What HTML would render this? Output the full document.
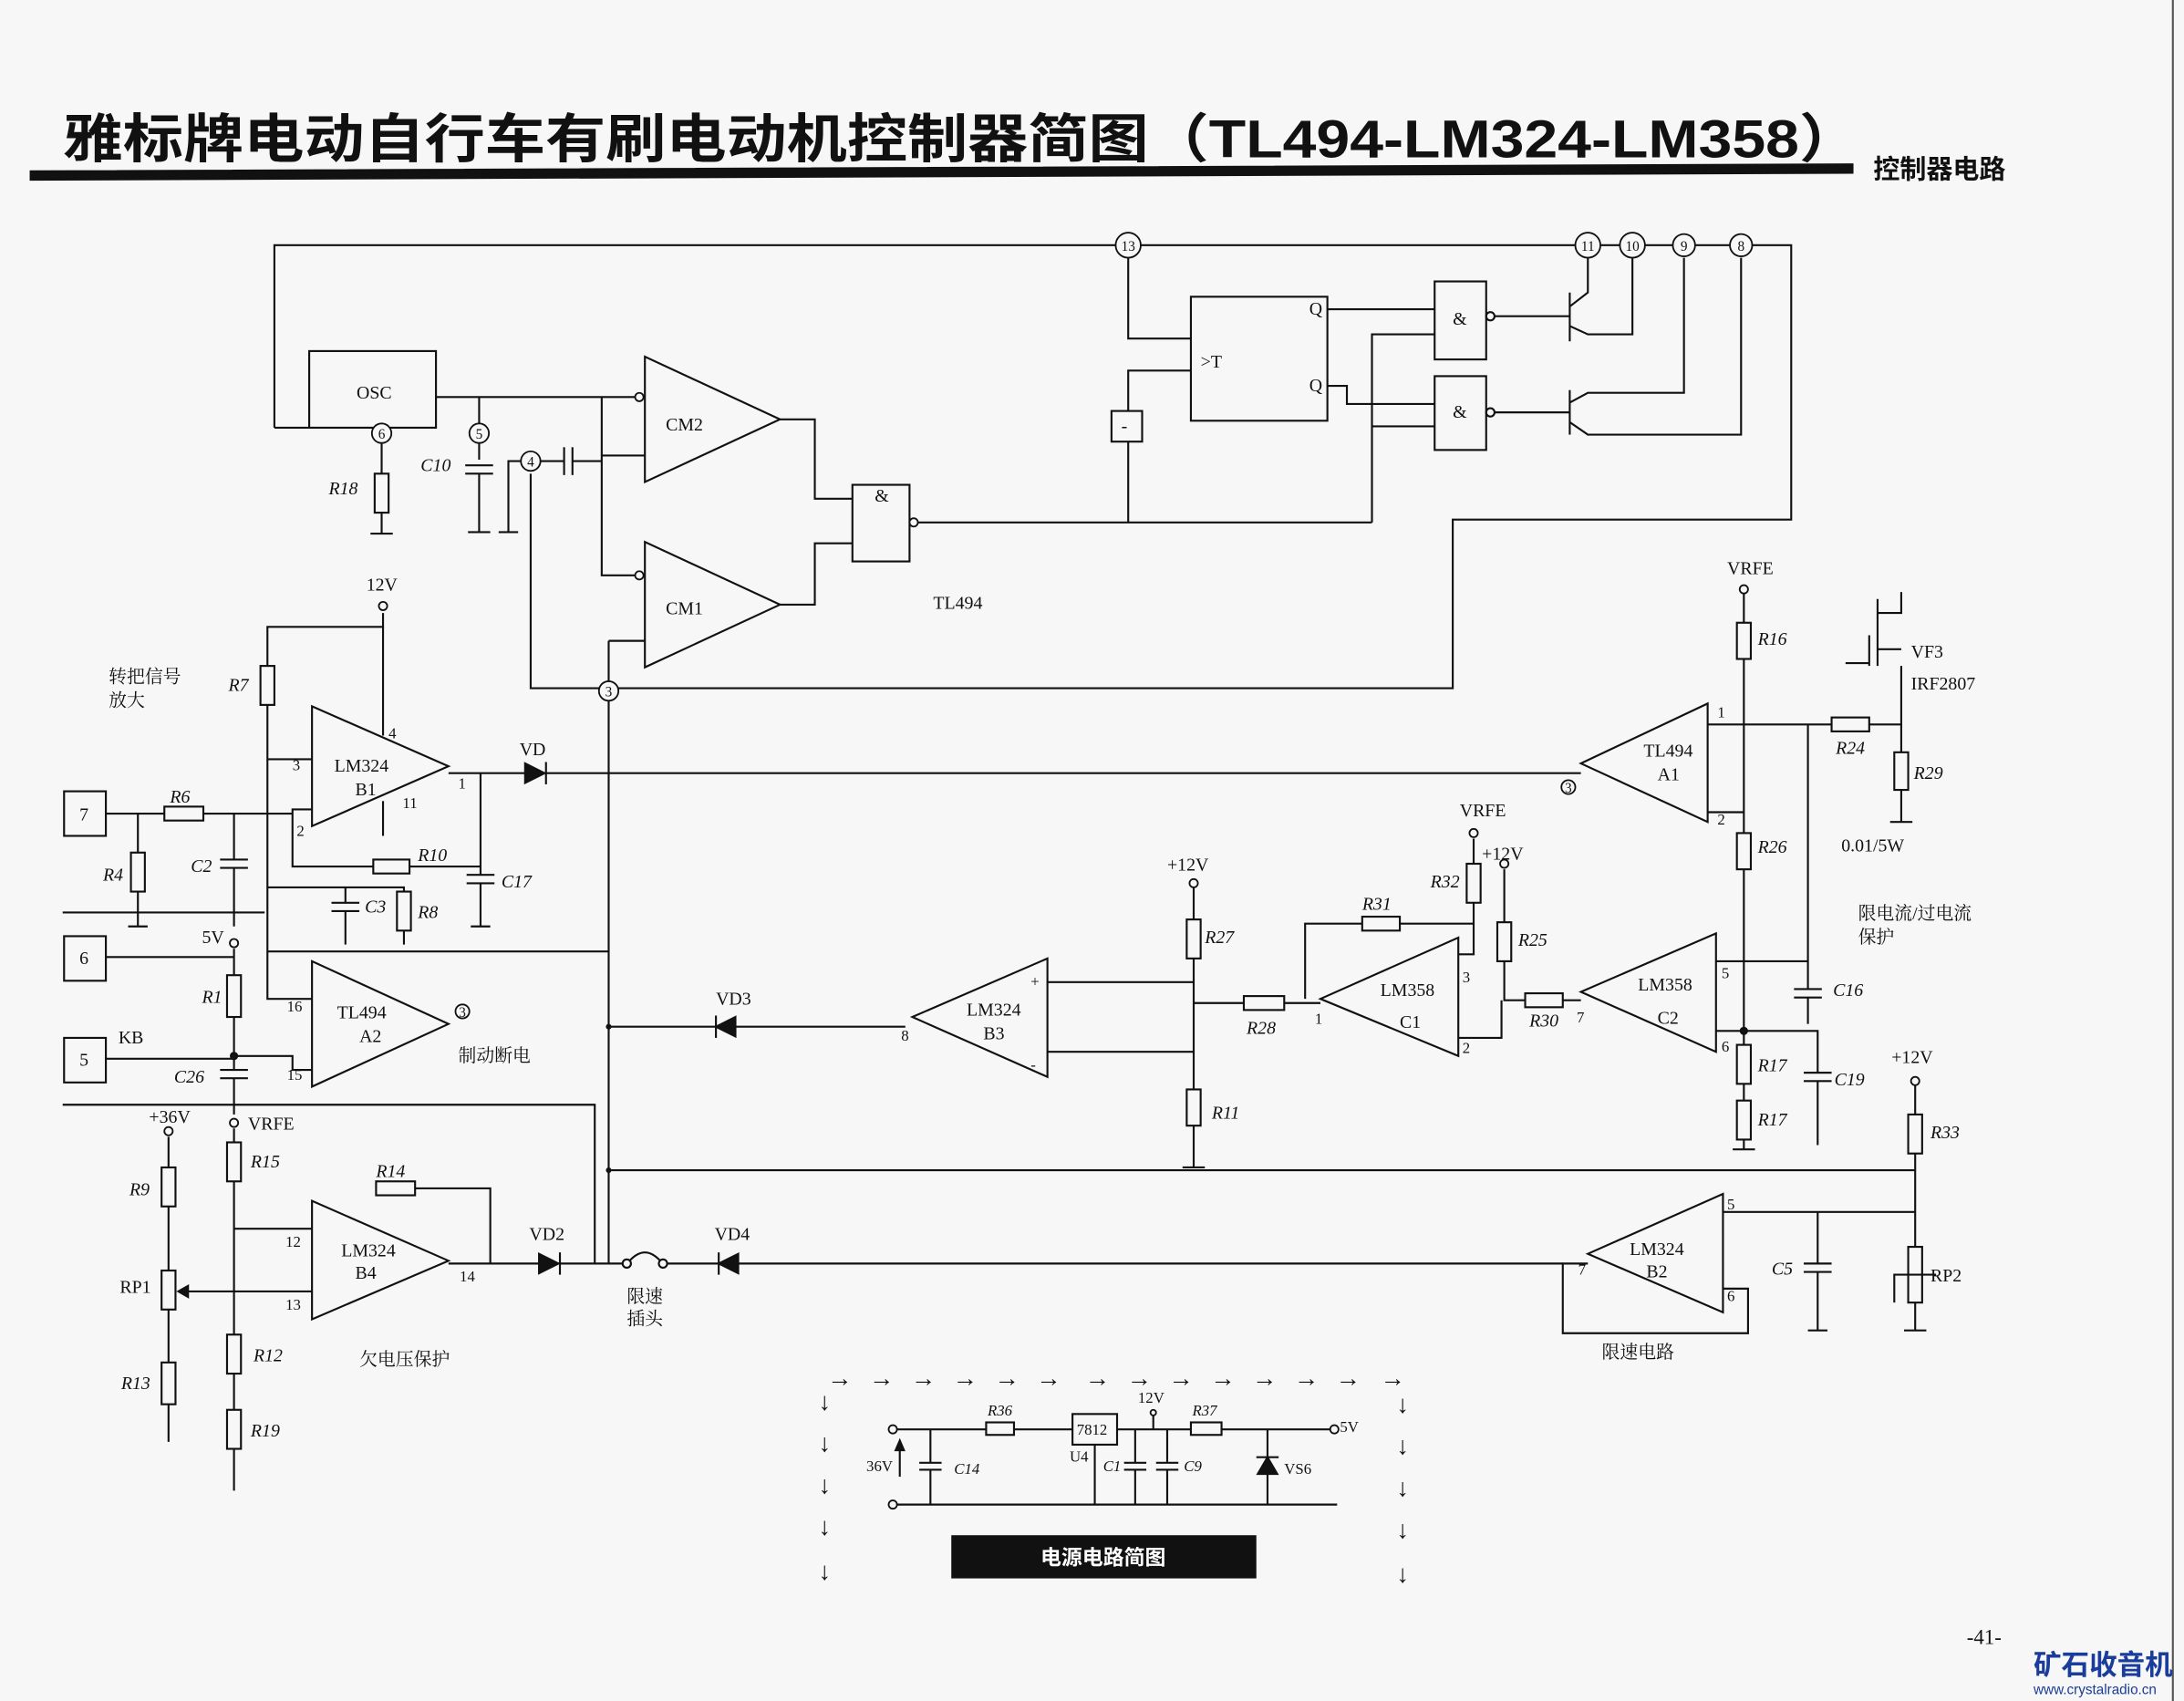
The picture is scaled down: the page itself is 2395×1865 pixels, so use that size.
<!DOCTYPE html>
<html><head><meta charset="utf-8"><style>
html,body{margin:0;padding:0;background:#f7f7f7;}
svg{display:block}
text{font-family:"Liberation Serif","Noto Serif CJK SC",serif;fill:#111}
.s{font-family:"Liberation Sans","Noto Sans CJK SC",sans-serif}
</style></head><body>
<svg width="2395" height="1865" viewBox="0 0 1568 1221" xmlns="http://www.w3.org/2000/svg">
<rect width="1568" height="1221" fill="#f7f7f7"/>
<g stroke="#111" stroke-width="1.4" fill="none">
<line x1="1560" y1="0" x2="1560" y2="1221" stroke="#555"/>
<polygon points="22,123 1330,118 1330,124 22,129" fill="#111"/>
<polyline points="197,307 197,176 1286,176 1286,373 1043,373 1043,494 437,494"/>
<polyline points="197,307 222,307"/>
<rect x="222" y="252" width="91" height="55"/>
<line x1="274" y1="307" x2="274" y2="383"/><rect x="269" y="340" width="10" height="28" fill="#f7f7f7"/><line x1="266" y1="383" x2="282" y2="383"/>
<polyline points="313,285 459,285"/>
<line x1="344" y1="285" x2="344" y2="330"/><line x1="334" y1="334" x2="354" y2="334"/><line x1="334" y1="340" x2="354" y2="340"/><line x1="344" y1="340" x2="344" y2="382"/><line x1="336" y1="382" x2="352" y2="382"/>
<polyline points="365,382 365,331 405,331"/><line x1="358" y1="382" x2="372" y2="382"/>
<line x1="405" y1="321" x2="405" y2="341"/><line x1="411" y1="321" x2="411" y2="341"/>
<polyline points="411,331 432,331"/>
<polyline points="432,285 432,413 463,413"/><line x1="432" y1="327" x2="463" y2="327"/>
<polyline points="381,340 381,494 437,494"/>
<polyline points="437,460 463,460"/><line x1="437" y1="460" x2="437" y2="907"/>
<polygon points="463,256 463,346 560,301"/><polygon points="463,389 463,479 560,434"/>
<polyline points="560,301 585,301 585,358 612,358"/><polyline points="560,434 585,434 585,390 612,390"/>
<rect x="612" y="348" width="41" height="55"/>
<line x1="659" y1="375" x2="985" y2="375"/>
<polyline points="810,375 810,317"/><rect x="798" y="295" width="22" height="22"/>
<polyline points="810,295 810,266 855,266"/>
<polyline points="810,185 810,243 855,243"/>
<rect x="855" y="213" width="98" height="89"/>
<polyline points="953,222 1030,222"/><polyline points="953,277 967,277 967,290 1030,290"/>
<polyline points="985,375 985,240 1030,240"/><line x1="985" y1="306" x2="1030" y2="306"/>
<rect x="1030" y="202" width="37" height="56"/><rect x="1030" y="270" width="37" height="53"/>
<circle cx="1070" cy="227" r="3"/><circle cx="1070" cy="296" r="3"/>
<line x1="1073" y1="227" x2="1127" y2="227"/><line x1="1127" y1="210" x2="1127" y2="245"/>
<polyline points="1127,220 1140,210 1140,185"/><polyline points="1127,234 1140,240 1172,240 1172,185"/>
<line x1="1073" y1="296" x2="1127" y2="296"/><line x1="1127" y1="280" x2="1127" y2="312"/>
<polyline points="1127,289 1140,282 1209,282 1209,185"/><polyline points="1127,303 1140,312 1250,312 1250,185"/>
<polyline points="275,440 275,450 192,450 192,478"/><rect x="187" y="478" width="10" height="28"/>
<polyline points="192,506 192,717 224,717"/><line x1="192" y1="545" x2="224" y2="545"/>
<line x1="275" y1="450" x2="275" y2="528"/><line x1="275" y1="575" x2="275" y2="600"/>
<polygon points="224,507 224,593 322,550"/>
<line x1="322" y1="555" x2="1135" y2="555"/>
<polygon points="377,548 377,562 391,555" fill="#111"/><line x1="392" y1="547" x2="392" y2="563"/>
<polyline points="345,555 345,628"/><line x1="335" y1="628" x2="355" y2="628"/><line x1="335" y1="634" x2="355" y2="634"/><line x1="345" y1="634" x2="345" y2="665"/><line x1="338" y1="665" x2="352" y2="665"/>
<polyline points="224,581 210,581 210,622 345,622"/><rect x="268" y="617" width="26" height="10" fill="#f7f7f7"/>
<rect x="46" y="568" width="30" height="32"/>
<polyline points="76,584 210,584"/><rect x="118" y="579" width="28" height="10" fill="#f7f7f7"/>
<line x1="99" y1="584" x2="99" y2="665"/><rect x="94" y="612" width="10" height="28" fill="#f7f7f7"/><line x1="92" y1="665" x2="106" y2="665"/>
<line x1="168" y1="584" x2="168" y2="617"/><line x1="158" y1="617" x2="178" y2="617"/><line x1="158" y1="623" x2="178" y2="623"/><line x1="168" y1="623" x2="168" y2="665"/>
<polyline points="192,637 290,637 290,678"/><rect x="285" y="640" width="10" height="28" fill="#f7f7f7"/>
<line x1="248" y1="637" x2="248" y2="648"/><line x1="238" y1="648" x2="258" y2="648"/><line x1="238" y1="654" x2="258" y2="654"/><line x1="248" y1="654" x2="248" y2="678"/>
<line x1="45" y1="655" x2="190" y2="655"/><line x1="192" y1="683" x2="437" y2="683"/>
<rect x="46" y="672" width="30" height="32"/><rect x="46" y="745" width="30" height="32"/>
<line x1="76" y1="687" x2="168" y2="687"/><line x1="168" y1="681" x2="168" y2="700"/><rect x="163" y="700" width="10" height="30"/>
<line x1="168" y1="730" x2="168" y2="768"/><line x1="76" y1="760" x2="168" y2="760"/>
<line x1="158" y1="768" x2="178" y2="768"/><line x1="158" y1="774" x2="178" y2="774"/><line x1="168" y1="774" x2="168" y2="800"/>
<polyline points="168,758 210,758 210,768 224,768"/>
<polygon points="224,690 224,780 322,735"/>
<line x1="437" y1="737" x2="650" y2="737"/>
<polygon points="528,730 528,744 514,737" fill="#111"/><line x1="514" y1="729" x2="514" y2="745"/>
<polygon points="752,688 752,773 655,730"/>
<polyline points="752,705 857,705"/><polyline points="752,755 857,755"/>
<line x1="857" y1="637" x2="857" y2="838"/><rect x="852" y="660" width="10" height="28" fill="#f7f7f7"/><rect x="852" y="782" width="10" height="26" fill="#f7f7f7"/>
<line x1="849" y1="838" x2="865" y2="838"/>
<polyline points="857,720 948,720"/><rect x="893" y="715" width="29" height="10" fill="#f7f7f7"/>
<polygon points="1047,673 1047,758 948,717"/>
<polyline points="937,717 937,663 1058,663"/><rect x="978" y="658" width="27" height="10" fill="#f7f7f7"/>
<polyline points="1058,602 1058,685 1047,685"/><rect x="1053" y="620" width="10" height="28" fill="#f7f7f7"/>
<polyline points="1080,624 1080,718 1135,718"/><rect x="1075" y="662" width="10" height="28" fill="#f7f7f7"/><rect x="1095" y="713" width="27" height="10" fill="#f7f7f7"/>
<polyline points="1047,745 1078,745 1078,718"/>
<polygon points="1232,670 1232,755 1135,712"/>
<polyline points="1232,690 1298,690"/><polyline points="1232,740 1305,740 1305,770"/>
<polygon points="1226,505 1226,590 1135,548"/>
<polyline points="1252,426 1252,825"/><rect x="1247" y="447" width="10" height="26" fill="#f7f7f7"/><rect x="1247" y="598" width="10" height="26" fill="#f7f7f7"/><rect x="1247" y="750" width="10" height="28" fill="#f7f7f7"/><rect x="1247" y="790" width="10" height="28" fill="#f7f7f7"/>
<line x1="1226" y1="583" x2="1252" y2="583"/><line x1="1244" y1="825" x2="1260" y2="825"/>
<polyline points="1226,520 1365,520 1365,590"/><rect x="1315" y="515" width="27" height="10" fill="#f7f7f7"/><rect x="1360" y="540" width="10" height="27" fill="#f7f7f7"/>
<line x1="1357" y1="590" x2="1373" y2="590"/>
<line x1="1298" y1="520" x2="1298" y2="710"/><line x1="1288" y1="710" x2="1308" y2="710"/><line x1="1288" y1="716" x2="1308" y2="716"/><line x1="1298" y1="716" x2="1298" y2="735"/>
<line x1="1295" y1="770" x2="1315" y2="770"/><line x1="1295" y1="776" x2="1315" y2="776"/><line x1="1305" y1="776" x2="1305" y2="822"/>
<line x1="1365" y1="520" x2="1365" y2="478"/><line x1="1348" y1="430" x2="1348" y2="478"/><line x1="1342" y1="456" x2="1342" y2="478"/><line x1="1325" y1="476" x2="1342" y2="476"/>
<polyline points="1348,440 1365,440 1365,425"/><polyline points="1348,466 1365,466"/>
<polyline points="437,840 1375,840"/>
<polyline points="1375,779 1375,955"/><rect x="1370" y="800" width="10" height="28" fill="#f7f7f7"/><rect x="1370" y="895" width="10" height="40" fill="#f7f7f7"/>
<polyline points="1390,915 1360,915 1360,935"/><line x1="1367" y1="955" x2="1383" y2="955"/>
<polygon points="1237,857 1237,942 1140,900"/>
<polyline points="1237,870 1375,870"/>
<polyline points="1237,925 1255,925 1255,957 1122,957 1122,907 1140,907"/>
<line x1="1305" y1="870" x2="1305" y2="907"/><line x1="1295" y1="907" x2="1315" y2="907"/><line x1="1295" y1="913" x2="1315" y2="913"/><line x1="1305" y1="913" x2="1305" y2="955"/><line x1="1298" y1="955" x2="1312" y2="955"/>
<line x1="322" y1="907" x2="447" y2="907"/><line x1="479" y1="907" x2="1122" y2="907"/>
<circle cx="450" cy="907" r="3"/><circle cx="476" cy="907" r="3"/><path d="M452,905 Q463,893 474,905"/>
<polygon points="387,900 387,914 401,907" fill="#111"/><line x1="402" y1="899" x2="402" y2="915"/>
<polygon points="530,900 530,914 516,907" fill="#111"/><line x1="516" y1="899" x2="516" y2="915"/>
<polygon points="224,862 224,947 322,905"/>
<polyline points="168,882 224,882"/><polyline points="272,853 352,853 352,907"/><rect x="270" y="848" width="28" height="10" fill="#f7f7f7"/>
<polyline points="128,927 224,927"/><polygon points="128,927 135,923 135,931" fill="#111"/>
<line x1="121" y1="816" x2="121" y2="1035"/><rect x="116" y="838" width="10" height="28" fill="#f7f7f7"/><rect x="116" y="912" width="10" height="28" fill="#f7f7f7"/><rect x="116" y="978" width="10" height="30" fill="#f7f7f7"/>
<line x1="168" y1="810" x2="168" y2="1070"/><rect x="163" y="820" width="10" height="28" fill="#f7f7f7"/><rect x="163" y="958" width="10" height="28" fill="#f7f7f7"/><rect x="163" y="1012" width="10" height="28" fill="#f7f7f7"/>
<polyline points="45,793 427,793 427,907"/>
<polyline points="644,1026 770,1026"/><rect x="708" y="1021" width="20" height="9" fill="#f7f7f7"/>
<rect x="770" y="1015" width="32" height="22"/>
<polyline points="802,1026 955,1026"/><rect x="855" y="1021" width="22" height="9" fill="#f7f7f7"/>
<line x1="644" y1="1080" x2="960" y2="1080"/>
<polyline points="786,1037 786,1080"/>
<line x1="668" y1="1026" x2="668" y2="1050"/><line x1="660" y1="1050" x2="676" y2="1050"/><line x1="660" y1="1055" x2="676" y2="1055"/><line x1="668" y1="1055" x2="668" y2="1080"/>
<line x1="815" y1="1026" x2="815" y2="1050"/><line x1="807" y1="1050" x2="823" y2="1050"/><line x1="807" y1="1055" x2="823" y2="1055"/><line x1="815" y1="1055" x2="815" y2="1080"/>
<line x1="838" y1="1026" x2="838" y2="1050"/><line x1="830" y1="1050" x2="846" y2="1050"/><line x1="830" y1="1055" x2="846" y2="1055"/><line x1="838" y1="1055" x2="838" y2="1080"/>
<line x1="828" y1="1016" x2="828" y2="1026"/>
<line x1="910" y1="1026" x2="910" y2="1080"/><polygon points="903,1058 917,1058 910,1046" fill="#111"/><polyline points="902,1046 918,1046"/>
<line x1="646" y1="1060" x2="646" y2="1036"/><polygon points="646,1034 643,1041 649,1041" fill="#111"/>
</g>
<g fill="#f7f7f7" stroke="#111" stroke-width="1.2">
<circle cx="810" cy="176" r="9"/><circle cx="1140" cy="176" r="9"/><circle cx="1172" cy="176" r="9"/><circle cx="1209" cy="176" r="8"/><circle cx="1250" cy="176" r="8"/>
<circle cx="274" cy="311" r="7"/><circle cx="344" cy="311" r="7"/><circle cx="381" cy="331" r="7"/><circle cx="437" cy="496" r="7"/>
<circle cx="459" cy="285" r="3"/><circle cx="459" cy="413" r="3"/><circle cx="656" cy="375" r="3"/>
<circle cx="275" cy="435" r="3"/><circle cx="168" cy="677" r="3"/><circle cx="857" cy="634" r="3"/><circle cx="1058" cy="598" r="3"/><circle cx="1080" cy="620" r="3"/><circle cx="1252" cy="423" r="3"/><circle cx="1375" cy="776" r="3"/>
<circle cx="121" cy="812" r="3"/><circle cx="168" cy="806" r="3"/><circle cx="641" cy="1026" r="3"/><circle cx="641" cy="1080" r="3"/><circle cx="958" cy="1026" r="3"/><circle cx="828" cy="1014" r="2"/>
<circle cx="332" cy="726" r="5"/><circle cx="1126" cy="565" r="5"/>
</g>
<g fill="#111"><circle cx="168" cy="758" r="3"/><circle cx="1252" cy="740" r="3"/><circle cx="437" cy="737" r="2"/><circle cx="437" cy="840" r="2"/></g>
<rect x="683" y="1102" width="219" height="31" fill="#111"/>
<g font-size="10" text-anchor="middle">
<text x="810" y="180">13</text><text x="1140" y="180">11</text><text x="1172" y="180">10</text><text x="1209" y="180">9</text><text x="1250" y="180">8</text>
<text x="274" y="315">6</text><text x="344" y="315">5</text><text x="381" y="335">4</text><text x="437" y="500">3</text><text x="332" y="730">3</text><text x="1126" y="569">3</text>
</g>
<g font-size="13">
<text x="256" y="286">OSC</text><text x="478" y="309">CM2</text><text x="478" y="441">CM1</text><text x="628" y="360">&amp;</text>
<text x="1043" y="233">&amp;</text><text x="1043" y="300">&amp;</text><text x="862" y="264">&gt;T</text><text x="940" y="226">Q</text><text x="940" y="281">Q</text><text x="805" y="310">-</text>
<text x="670" y="437">TL494</text>
<text x="236" y="355" font-style="italic">R18</text><text x="302" y="338" font-style="italic">C10</text>
<text x="263" y="424">12V</text><text x="164" y="496" font-style="italic">R7</text>
<text x="78" y="490">转把信号</text><text x="78" y="507">放大</text>
<text x="240" y="554">LM324</text><text x="255" y="571">B1</text>
<text x="210" y="553" font-size="11">3</text><text x="279" y="530" font-size="11">4</text><text x="289" y="580" font-size="11">11</text><text x="329" y="566" font-size="11">1</text><text x="213" y="600" font-size="11">2</text>
<text x="373" y="542">VD</text><text x="122" y="576" font-style="italic">R6</text><text x="57" y="589">7</text><text x="74" y="632" font-style="italic">R4</text><text x="137" y="626" font-style="italic">C2</text>
<text x="300" y="618" font-style="italic">R10</text><text x="360" y="637" font-style="italic">C17</text><text x="262" y="655" font-style="italic">C3</text><text x="300" y="659" font-style="italic">R8</text>
<text x="57" y="692">6</text><text x="57" y="765">5</text><text x="145" y="677">5V</text><text x="145" y="720" font-style="italic">R1</text><text x="85" y="749">KB</text><text x="125" y="777" font-style="italic">C26</text>
<text x="242" y="731">TL494</text><text x="258" y="748">A2</text><text x="206" y="726" font-size="11">16</text><text x="206" y="775" font-size="11">15</text><text x="329" y="762">制动断电</text>
<text x="514" y="721">VD3</text><text x="694" y="729">LM324</text><text x="706" y="746">B3</text><text x="647" y="747" font-size="11">8</text><text x="740" y="708" font-size="11">+</text><text x="740" y="768" font-size="11">-</text>
<text x="838" y="625">+12V</text><text x="865" y="677" font-style="italic">R27</text><text x="870" y="803" font-style="italic">R11</text><text x="895" y="742" font-style="italic">R28</text>
<text x="978" y="653" font-style="italic">R31</text><text x="991" y="715">LM358</text><text x="1005" y="738">C1</text><text x="944" y="735" font-size="11">1</text><text x="1050" y="705" font-size="11">3</text><text x="1050" y="756" font-size="11">2</text>
<text x="1048" y="586">VRFE</text><text x="1027" y="637" font-style="italic">R32</text><text x="1064" y="617">+12V</text><text x="1090" y="679" font-style="italic">R25</text><text x="1098" y="737" font-style="italic">R30</text><text x="1132" y="734" font-size="11">7</text>
<text x="1176" y="711">LM358</text><text x="1190" y="735">C2</text><text x="1236" y="702" font-size="11">5</text><text x="1236" y="755" font-size="11">6</text>
<text x="1240" y="412">VRFE</text><text x="1262" y="463" font-style="italic">R16</text><text x="1262" y="612" font-style="italic">R26</text><text x="1262" y="769" font-style="italic">R17</text><text x="1262" y="808" font-style="italic">R17</text>
<text x="1180" y="543">TL494</text><text x="1190" y="560">A1</text><text x="1233" y="515" font-size="11">1</text><text x="1233" y="592" font-size="11">2</text>
<text x="1318" y="541" font-style="italic">R24</text><text x="1374" y="559" font-style="italic">R29</text><text x="1322" y="611">0.01/5W</text><text x="1372" y="472">VF3</text><text x="1372" y="495">IRF2807</text>
<text x="1334" y="660">限电流/过电流</text><text x="1334" y="677">保护</text><text x="1316" y="715" font-style="italic">C16</text><text x="1317" y="779" font-style="italic">C19</text>
<text x="1358" y="763">+12V</text><text x="1386" y="817" font-style="italic">R33</text><text x="1386" y="920">RP2</text><text x="1272" y="915" font-style="italic">C5</text>
<text x="1170" y="901">LM324</text><text x="1182" y="917">B2</text><text x="1240" y="868" font-size="11">5</text><text x="1240" y="934" font-size="11">6</text><text x="1133" y="915" font-size="11">7</text><text x="1150" y="975">限速电路</text>
<text x="513" y="890">VD4</text><text x="380" y="890">VD2</text><text x="450" y="935">限速</text><text x="450" y="951">插头</text>
<text x="245" y="902">LM324</text><text x="255" y="918">B4</text><text x="205" y="895" font-size="11">12</text><text x="205" y="940" font-size="11">13</text><text x="330" y="920" font-size="11">14</text>
<text x="270" y="845" font-style="italic">R14</text><text x="258" y="980">欠电压保护</text>
<text x="107" y="806">+36V</text><text x="178" y="811">VRFE</text><text x="180" y="838" font-style="italic">R15</text><text x="93" y="858" font-style="italic">R9</text><text x="86" y="928">RP1</text><text x="87" y="997" font-style="italic">R13</text><text x="182" y="977" font-style="italic">R12</text><text x="180" y="1031" font-style="italic">R19</text>
</g>
<g font-size="18" text-anchor="middle">
<text x="603" y="995">→</text><text x="633" y="995">→</text><text x="663" y="995">→</text><text x="693" y="995">→</text><text x="723" y="995">→</text><text x="753" y="995">→</text><text x="788" y="995">→</text><text x="818" y="995">→</text><text x="848" y="995">→</text><text x="878" y="995">→</text><text x="908" y="995">→</text><text x="938" y="995">→</text><text x="968" y="995">→</text><text x="1000" y="995">→</text>
<text x="592" y="1012">↓</text><text x="592" y="1042">↓</text><text x="592" y="1072">↓</text><text x="592" y="1102">↓</text><text x="592" y="1134">↓</text>
<text x="1007" y="1014">↓</text><text x="1007" y="1044">↓</text><text x="1007" y="1074">↓</text><text x="1007" y="1104">↓</text><text x="1007" y="1136">↓</text>
</g>
<g font-size="11">
<text x="709" y="1016" font-style="italic">R36</text><text x="773" y="1030">7812</text><text x="768" y="1049">U4</text><text x="817" y="1007">12V</text><text x="856" y="1016" font-style="italic">R37</text><text x="962" y="1028">5V</text>
<text x="622" y="1056">36V</text><text x="685" y="1058" font-style="italic">C14</text><text x="792" y="1056" font-style="italic">C1</text><text x="850" y="1056" font-style="italic">C9</text><text x="922" y="1058">VS6</text>
</g>
<text x="792" y="1123" font-size="15" style="fill:#fff" text-anchor="middle" class="s" font-weight="bold">电源电路简图</text>
<text x="45" y="113" font-size="38" font-weight="bold" class="s" textLength="1290" lengthAdjust="spacingAndGlyphs">雅标牌电动自行车有刷电动机控制器简图（TL494-LM324-LM358）</text>
<text x="1345" y="128" font-size="19" font-weight="bold" class="s">控制器电路</text>
<text x="1412" y="1180" font-size="15">-41-</text>
<text x="1460" y="1202" font-size="20" font-weight="bold" class="s" style="fill:#1a3c9a">矿石收音机</text>
<text x="1460" y="1216" font-size="10" class="s" style="fill:#1a3c9a">www.crystalradio.cn</text>
</svg>
</body></html>
